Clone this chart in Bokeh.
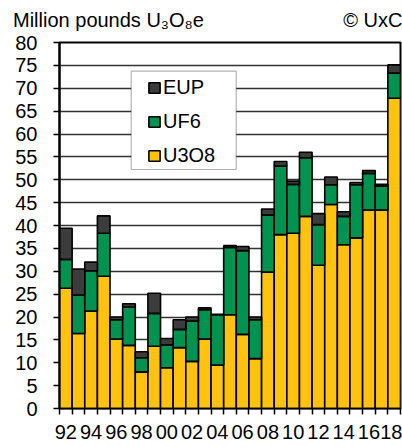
from bokeh.plotting import figure
from bokeh.models import (ColumnDataSource, Range1d, FixedTicker, Legend, LegendItem,
                          BoxAnnotation, LinearAxis)
from bokeh.embed import file_html
from bokeh.resources import INLINE

years = list(range(1992, 2019))
u3o8 = [26.3, 16.4, 21.3, 28.9, 15.2, 13.8, 8.0, 13.6, 8.9, 13.3, 10.3, 15.2, 9.5, 20.5,
        16.2, 10.9, 29.8, 38.0, 38.3, 42.0, 31.3, 44.6, 35.8, 37.3, 43.4, 43.4, 67.8]
uf6 = [6.3, 8.4, 8.8, 9.4, 4.2, 8.4, 3.1, 7.2, 5.0, 4.0, 8.8, 6.4, 11.0, 14.7,
       18.3, 8.5, 12.5, 15.0, 10.7, 12.8, 8.9, 4.3, 6.2, 11.6, 8.0, 5.2, 5.5]
eup = [6.8, 5.7, 1.9, 3.8, 0.6, 0.7, 1.3, 4.4, 1.4, 2.1, 0.9, 0.4, 0.1, 0.4,
       0.9, 0.6, 1.3, 1.0, 0.7, 1.2, 2.4, 1.7, 1.0, 0.5, 0.6, 0.4, 1.8]
series = ["u3o8", "uf6", "eup"]
series_labels = ["U3O8", "UF6", "EUP"]
colors = ["#FFC20E", "#00934F", "#3C3C3C"]
label_years = list(range(1992, 2019, 2))
y_ticks = list(range(0, 81, 5))
unit_text = "Million pounds U\u2083O\u2088e"
source_text = "\u00a9 UxC"

FONT = "Liberation Sans"

src = ColumnDataSource(dict(year=years, u3o8=u3o8, uf6=uf6, eup=eup))

p = figure(width=402, height=447, output_backend="svg", toolbar_location=None,
           x_range=Range1d(1991.5, 2018.5), y_range=Range1d(0, 80),
           min_border_left=59, min_border_right=2, min_border_top=42, min_border_bottom=39)
p.background_fill_color = "white"
p.border_fill_color = "white"
p.outline_line_color = "black"
p.outline_line_width = 2

renderers = p.vbar_stack(series, x="year", width=1.0, source=src, color=colors,
                         line_color="black", line_width=1.6)

# axes
p.xgrid.grid_line_color = None
p.ygrid.grid_line_color = "#333333"
p.ygrid.grid_line_width = 1.5

p.yaxis.ticker = FixedTicker(ticks=y_ticks)
p.yaxis.axis_line_color = "black"
p.yaxis.axis_line_width = 2
p.yaxis.major_tick_out = 6
p.yaxis.major_tick_in = 0
p.yaxis.major_tick_line_color = "black"
p.yaxis.major_tick_line_width = 1.5
p.yaxis.minor_tick_line_color = None
p.yaxis.major_label_standoff = 16
p.yaxis.major_label_text_font = FONT
p.yaxis.major_label_text_font_size = "20px"
p.yaxis.major_label_text_color = "black"

minor = [y - 0.5 for y in years] + [years[-1] + 0.5]
p.xaxis.ticker = FixedTicker(ticks=label_years, minor_ticks=minor)
p.xaxis.major_label_overrides = {y: f"{y % 100:02d}" for y in label_years}
p.xaxis.axis_line_color = "black"
p.xaxis.axis_line_width = 1.5
p.xaxis.major_tick_line_color = None
p.xaxis.minor_tick_line_color = "black"
p.xaxis.minor_tick_line_width = 1.5
p.xaxis.minor_tick_out = 6
p.xaxis.minor_tick_in = 0
p.xaxis.major_tick_out = 6
p.xaxis.major_tick_in = 0
p.xaxis.major_label_standoff = 10
p.xaxis.major_label_text_font = FONT
p.xaxis.major_label_text_font_size = "20px"
p.xaxis.major_label_text_color = "black"

# header line: an unlined axis above the frame carrying the two header texts
head_pos = [1995.38, 2016.33]
head = LinearAxis(ticker=FixedTicker(ticks=head_pos),
                  major_label_overrides={head_pos[0]: unit_text, head_pos[1]: source_text},
                  axis_line_color=None, major_tick_line_color=None,
                  minor_tick_line_color=None, major_tick_out=0, major_tick_in=0,
                  minor_tick_out=0, minor_tick_in=0, major_label_standoff=12,
                  major_label_text_font=FONT, major_label_text_font_size="20px",
                  major_label_text_color="black")
p.add_layout(head, "above")

# legend box
box = BoxAnnotation(left=71.7, right=176.7, top=337.3, bottom=239,
                    left_units="screen", right_units="screen",
                    top_units="screen", bottom_units="screen",
                    fill_color="white", fill_alpha=1.0,
                    line_color="black", line_width=1.2, level="overlay")
p.add_layout(box)

items = [LegendItem(label=series_labels[i], renderers=[renderers[i]]) for i in (2, 1, 0)]
legend = Legend(items=items, location=(88, 241), padding=0, spacing=11, margin=0,
                glyph_width=14, glyph_height=13, label_standoff=2,
                border_line_color=None, background_fill_alpha=0.0,
                label_text_font=FONT, label_text_font_size="20px",
                label_text_color="black")
legend.level = "overlay"
p.add_layout(legend, "center")

open("out.html", "w").write(file_html(p, INLINE))
